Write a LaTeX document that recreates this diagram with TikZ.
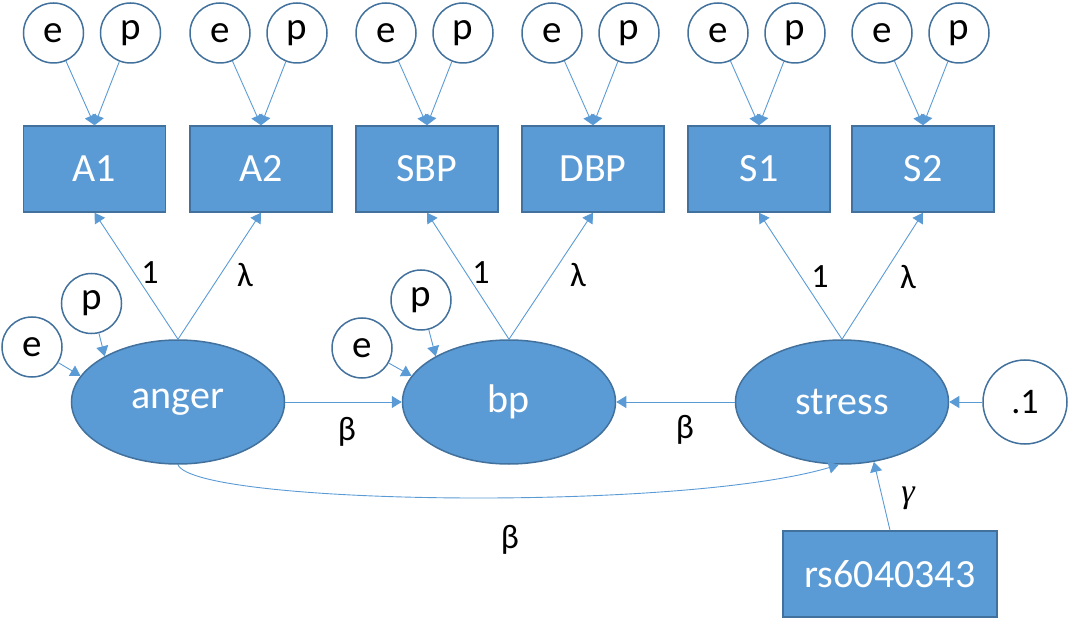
\documentclass[tikz,border=0pt]{standalone}
\usepackage{fontspec}
\setmainfont{Carlito}
\newfontfamily\gfont{Liberation Serif}
\usetikzlibrary{shapes.geometric,arrows.meta}
\definecolor{fillb}{HTML}{5B9BD5}
\definecolor{edgeb}{HTML}{41719C}
\tikzset{
  boxn/.style={draw=edgeb,line width=1.5pt,fill=fillb,text=white,minimum width=142pt,minimum height=86pt,inner sep=0pt,font=\fontsize{40}{44}\selectfont},
  latn/.style={ellipse,draw=edgeb,line width=1.5pt,fill=fillb,text=white,minimum width=213pt,minimum height=124pt,inner sep=0pt,font=\fontsize{40}{44}\selectfont},
  circn/.style={circle,draw=edgeb,line width=1.5pt,fill=white,minimum size=60pt,inner sep=0pt,font=\fontsize{39}{44}\selectfont},
  arr/.style={draw=fillb,line width=0.9pt,-{Triangle[width=12pt,length=10pt]}},
  lab/.style={font=\fontsize{34}{38}\selectfont,inner sep=0pt}
}
\begin{document}
\begin{tikzpicture}[x=1pt,y=-1pt]
\useasboundingbox (0,0) rectangle (1069,620);
% boxes
\node[boxn] (A1) at (94.5,169) {A1};
\node[boxn] (A2) at (261,169) {A2};
\node[boxn] (SBP) at (427,169) {SBP};
\node[boxn] (DBP) at (593,169) {DBP};
\node[boxn] (S1) at (759,169) {S1};
\node[boxn] (S2) at (923,169) {S2};
\node[boxn,minimum width=214pt] (rs) at (890,574) {rs6040343};
% top error circles
\foreach \b/\x in {A1/94.5,A2/261,SBP/427,DBP/593,S1/759,S2/923}{
  \node[circn] (e\b) at (\x-41,33) {e};
  \node[circn] (p\b) at (\x+36,33) {p};
  \draw[arr] (e\b) -- (\b.north);
  \draw[arr] (p\b) -- (\b.north);
}
% latent
\node[latn] (anger) at (178,402) {anger};
\node[latn] (bp) at (509,402) {bp};
\node[latn] (stress) at (842,402) {stress};
% left circles
\node[circn] (ae) at (32,347) {e};
\node[circn] (ap) at (91.5,303.5) {p};
\node[circn] (be) at (362,348) {e};
\node[circn] (bpp) at (421,300) {p};
\node[circn,minimum size=84pt,font=\fontsize{36}{40}\selectfont] (pt) at (1025,402) {.1};
\draw[arr] (ae) -- (anger.165);
\draw[arr] (ap) -- (anger.148);
\draw[arr] (be) -- (bp.165);
\draw[arr] (bpp) -- (bp.148);
% loadings
\draw[arr] (anger.north) -- (A1.south);
\draw[arr] (anger.north) -- (A2.south);
\draw[arr] (bp.north) -- (SBP.south);
\draw[arr] (bp.north) -- (DBP.south);
\draw[arr] (stress.north) -- (S1.south);
\draw[arr] (stress.north) -- (S2.south);
\node[lab] (l1) at (150,273) {1};
\node[lab] (l2) at (245,275) {λ};
\node[lab] (l3) at (481,273) {1};
\node[lab] (l4) at (578,275) {λ};
\node[lab] (l5) at (820,277) {1};
\node[lab] (l6) at (908,277) {λ};
% paths
\draw[arr] (anger.east) -- (bp.west);
\draw[arr] (stress.west) -- (bp.east);
\draw[arr] (pt) -- (stress.east);
\draw[arr] (rs.north) -- (stress.-62);
\draw[arr] (anger.south) .. controls (195,505) and (680,512) .. (stress.-93);
\node[lab] (b1) at (347,432) {β};
\node[lab] (b2) at (685,430) {β};
\node[lab] (b3) at (510,540) {β};
\node[lab,font=\gfont\itshape\fontsize{34}{38}\selectfont] (g1) at (908,498) {γ};
\end{tikzpicture}
\end{document}
